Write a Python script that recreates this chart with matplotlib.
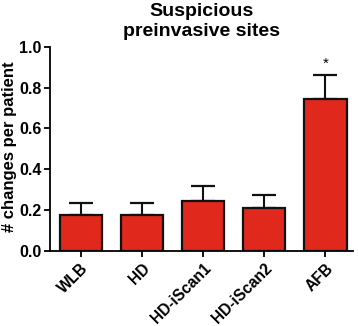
import matplotlib
matplotlib.use('Agg')
import matplotlib.pyplot as plt

# values
groups = ['WLB', 'HD', 'HD-iScan1', 'HD-iScan2', 'AFB']
means = [0.175, 0.175, 0.245, 0.21, 0.745]
errs = [0.058, 0.058, 0.073, 0.064, 0.115]
yticks = [0.0, 0.2, 0.4, 0.6, 0.8, 1.0]

plt.rcParams['font.family'] = ['Liberation Sans', 'DejaVu Sans']
plt.rcParams['font.weight'] = 'bold'

fig = plt.figure(figsize=(3.58, 3.26), dpi=100)
ax = fig.add_axes([0.14, 0.231, 0.846, 0.625])

x = range(len(groups))
ax.bar(x, means, width=0.69, color='#e0281c', edgecolor='#111111', linewidth=1.6, zorder=2)
ax.errorbar(x, means, yerr=[[0] * len(errs), errs], fmt='none', ecolor='#111111',
            elinewidth=1.5, capsize=8.6, capthick=1.6, zorder=1)

# significance marker above AFB
ax.text(4, means[4] + errs[4] + 0.025, '*', ha='center', va='bottom',
        fontsize=11, fontweight='normal')

ax.set_xlim(-0.5, 4.45)
ax.set_ylim(0, 1.0)
ax.set_yticks(yticks)
ax.set_yticklabels(['%.1f' % v for v in yticks], fontsize=11.5, fontweight='bold')
ax.set_xticks(list(x))
ax.set_xticklabels(groups, rotation=45, ha='right', rotation_mode='anchor',
                   fontsize=11.2, fontweight='bold')

for s in ['top', 'right']:
    ax.spines[s].set_visible(False)
for s in ['left', 'bottom']:
    ax.spines[s].set_linewidth(1.3)
ax.tick_params(axis='both', direction='out', width=1.3, length=4)
ax.tick_params(axis='y', pad=2)

ax.set_ylabel('# changes per patient', fontsize=12, fontweight='bold', va='center')
ax.yaxis.set_label_coords(-0.135, 0.512)
ax.set_title('Suspicious\npreinvasive sites', fontsize=14, fontweight='bold', pad=8)

fig.savefig('out.png', dpi=100)
